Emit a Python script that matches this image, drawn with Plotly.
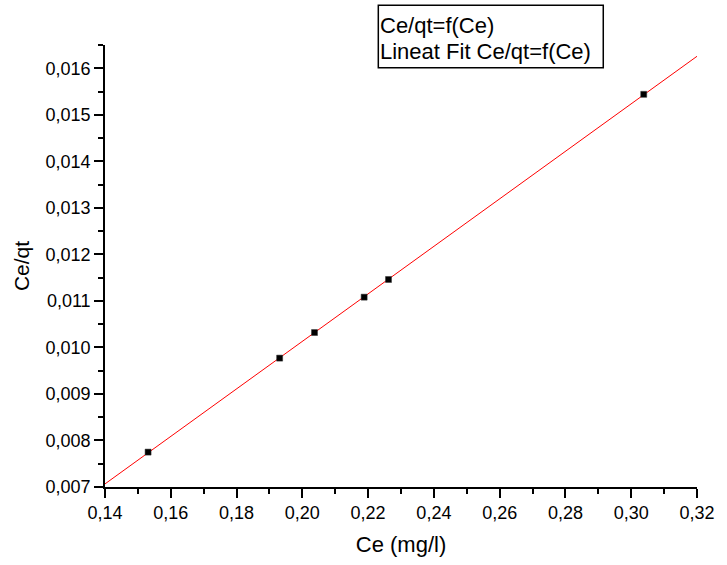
import numpy as np
import plotly.graph_objects as go

# Data
ce = [0.1531, 0.1931, 0.2037, 0.2188, 0.2262, 0.3038]
ce_qt = [0.00775, 0.00977, 0.01032, 0.01108, 0.01146, 0.01544]
fit_x_range = [0.14, 0.32]
x_ticks = [0.14, 0.16, 0.18, 0.20, 0.22, 0.24, 0.26, 0.28, 0.30, 0.32]
y_ticks = [0.007, 0.008, 0.009, 0.010, 0.011, 0.012, 0.013, 0.014, 0.015, 0.016]
legend_labels = ["Ce/qt=f(Ce)", "Lineat Fit Ce/qt=f(Ce)"]

slope, intercept = np.polyfit(ce, ce_qt, 1)
fit_x = np.array(fit_x_range)
fit_y = slope * fit_x + intercept

FONT = "Liberation Sans, Arial, sans-serif"

# plot-area geometry helpers (pixels -> paper)
L, R, T, B = 105, 22, 45, 75
PW, PH = 727 - L - R, 565 - T - B


def px(xp):
    return (xp - L) / PW


def py(yp):
    return (565 - B - yp) / PH


fig = go.Figure()
fig.add_trace(go.Scatter(
    x=fit_x, y=fit_y, mode="lines",
    line=dict(color="#ff0000", width=1), name=legend_labels[1],
    showlegend=False,
))
fig.add_trace(go.Scatter(
    x=ce, y=ce_qt, mode="markers",
    marker=dict(symbol="square", size=6, color="black",
                line=dict(color="#333333", width=0.5)),
    name=legend_labels[0], showlegend=False,
))

axis_common = dict(
    showline=True, linecolor="black", linewidth=1.6,
    ticks="outside", ticklen=9, tickwidth=1.5, tickcolor="black",
    showgrid=False, zeroline=False, mirror=False,
    tickfont=dict(family=FONT, size=18, color="black"),
)

fig.update_layout(
    width=727, height=565,
    margin=dict(l=L, r=R, t=T, b=B),
    paper_bgcolor="white", plot_bgcolor="white",
    separators=", ",
    font=dict(family=FONT, color="black"),
    xaxis=dict(
        range=[0.14, 0.32], tickvals=x_ticks, tickformat=".2f",
        title=dict(text="Ce (mg/l)", font=dict(family=FONT, size=22), standoff=14),
        minor=dict(ticks="outside", ticklen=5, tickwidth=1.5, tickcolor="black", dtick=0.01),
        **axis_common,
    ),
    yaxis=dict(
        range=[0.007, 0.0165], tickvals=y_ticks, tickformat=".3f",
        title=dict(text="Ce/qt", font=dict(family=FONT, size=21), standoff=10),
        minor=dict(ticks="outside", ticklen=5, tickwidth=1.5, tickcolor="black", dtick=0.0005),
        **axis_common,
    ),
    showlegend=False,
)

# Legend box (text only, as in the reference)
fig.add_shape(
    type="rect", xref="paper", yref="paper",
    x0=px(382), x1=px(610), y0=py(68), y1=py(5),
    line=dict(color="black", width=1.5), fillcolor="white", layer="above",
)
for i, lab in enumerate(legend_labels):
    fig.add_annotation(
        xref="paper", yref="paper",
        x=px(382), y=py(25 + 27 * i),
        xanchor="left", yanchor="middle",
        text=lab, showarrow=False, align="left",
        font=dict(family=FONT, size=22, color="black"),
    )

post = (
    "document.documentElement.style.margin='0';"
    "document.body.style.margin='0';"
    "document.body.style.overflow='hidden';"
    "document.documentElement.style.overflow='hidden';"
    "var d=document.getElementById('{plot_id}');"
    "d.style.display='block';"
    "d.parentElement.style.height='565px';"
    "d.parentElement.style.overflow='hidden';"
)

fig.write_html("out.html", post_script=post)
